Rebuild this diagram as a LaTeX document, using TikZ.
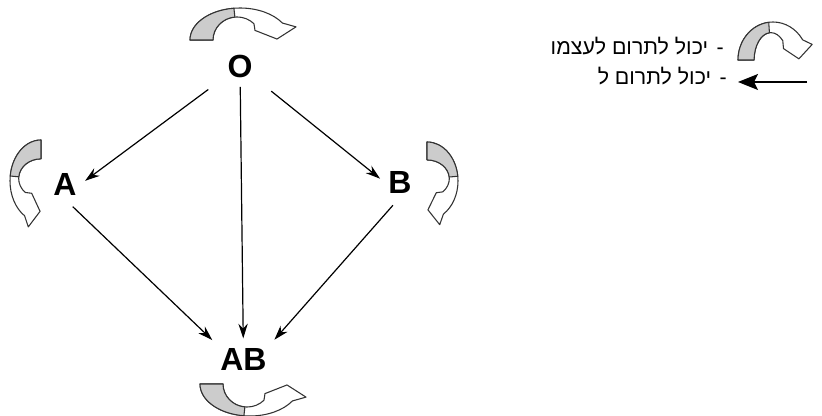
\documentclass[tikz,border=0pt]{standalone}
\usepackage{fontspec}
\setmainfont{Liberation Sans}
\newfontfamily\hebfont[Script=Hebrew]{Liberation Sans}
\TeXXeTstate=1
\usepackage{tikz}
\usetikzlibrary{arrows.meta}

\tikzstyle{letter} = [rectangle, inner sep=3pt, font=\fontsize{24}{28}\selectfont\bfseries]
\tikzstyle{arrow} = [line width=0.9pt, -{Stealth[length=11pt,width=7pt]}, shorten <=8pt, shorten >=4pt]
\tikzstyle{legarrow} = [line width=1pt, -{Stealth[length=15pt,width=12pt,inset=3pt]}]
\tikzstyle{legtext} = [anchor=base east, inner sep=0pt, font=\hebfont\fontsize{16}{19}\selectfont]
\tikzstyle{band} = [draw=black!80, line width=0.8pt, line join=round]

% curved "gives to itself" arrow, drawn in its own frame
\newcommand{\selfarrow}[1]{%
  \begin{scope}[#1]
    \filldraw[band, fill=white] (-1,0) arc[start angle=180, end angle=32, x radius=1, y radius=1]
      -- (1.12,0.41) -- (0.74,0.03) -- (0.30,0.30) -- (0.279,0.509)
      arc[start angle=45, end angle=180, x radius=0.48, y radius=0.72] -- cycle;
    \filldraw[band, fill=black!20] (-1,0) arc[start angle=180, end angle=97, x radius=1, y radius=1]
      -- (-0.102,0.717) arc[start angle=95, end angle=180, x radius=0.48, y radius=0.72] -- cycle;
  \end{scope}}

\begin{document}
\begin{tikzpicture}[x=0.75pt,y=-0.75pt]
\useasboundingbox (0,0) rectangle (822,416);

\node (O) [letter] at (240,66) {O};
\node (A) [letter] at (65,184) {A};
\node (B) [letter] at (400,182) {B};
\node (AB) [letter] at (243.5,359) {AB};

\draw [arrow, shorten <=14pt] (O) -- (A.east);
\draw [arrow, shorten <=14pt] (O) -- (B.west);
\draw [arrow, shorten <=4pt] (O) -- (AB);
\draw [arrow] (A.south) -- (AB.north west);
\draw [arrow] (B.south) -- (AB.north east);

\selfarrow{shift={(240,40)}, xscale=50, yscale=-32}
\selfarrow{shift={(41,181)}, rotate=90, xscale=-41, yscale=-31}
\selfarrow{shift={(427,181)}, rotate=90, xscale=-39, yscale=31}
\selfarrow{shift={(250,384)}, xscale=50, yscale=32}

% legend
\selfarrow{shift={(773,60)}, xscale=35, yscale=-38}
\node (legself) [legtext] at (724,55) {\beginR -\hspace{0.4em}יכול לתרום לעצמו\endR};
\coordinate (legtail) at (807,82);
\coordinate (leghead) at (738,82);
\draw [legarrow] (legtail) -- (leghead);
\node (legto) [legtext] at (727,85) {\beginR -\hspace{0.4em}יכול לתרום ל\endR};

\end{tikzpicture}
\end{document}
